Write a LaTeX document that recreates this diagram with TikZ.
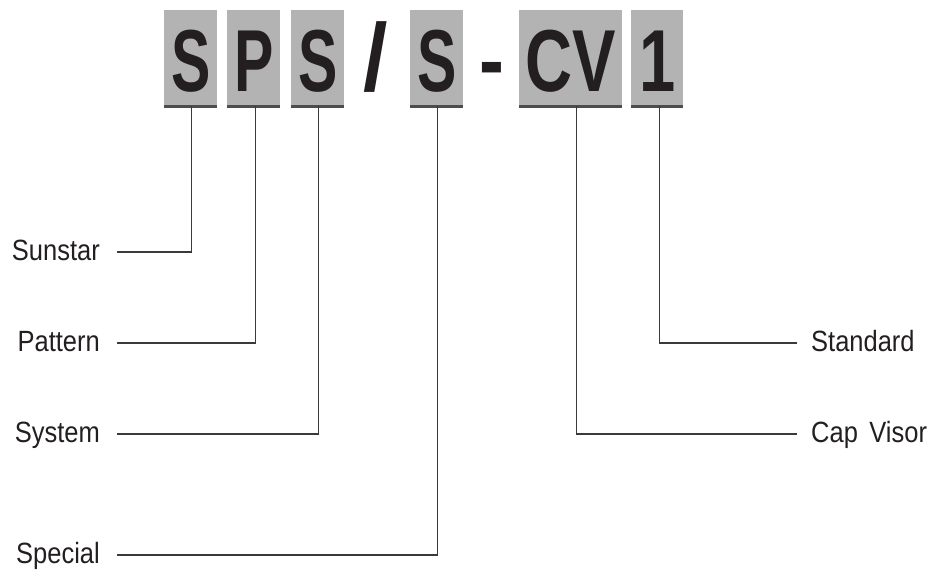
\documentclass[tikz,border=0pt]{standalone}
\usepackage{fontspec}
\usepackage{graphicx}
\setmainfont{Liberation Sans}
\definecolor{boxgray}{HTML}{B3B3B3}
\definecolor{ink}{HTML}{231F20}
\definecolor{underline}{HTML}{4D4D4D}
\definecolor{linegray}{HTML}{3A3A3A}
\newcommand{\cx}[1]{\scalebox{0.67}[1]{#1}}
\newcommand{\cw}[1]{\scalebox{0.74}[1]{#1}}
\newcommand{\lx}[1]{\scalebox{0.87}[1]{#1}}
\newcommand{\codefont}{\fontsize{88}{92}\selectfont\bfseries}
\newcommand{\lblfont}{\fontsize{29.3}{32}\selectfont}
\tikzset{
  codebox/.style={fill=boxgray, inner xsep=0pt, inner ysep=14.5pt, text height=67pt,
    text depth=0pt, minimum height=96pt, anchor=north west, font=\codefont, text=ink},
  codesep/.style={inner sep=0pt, anchor=base, font=\codefont, text=ink},
  underl/.style={draw=underline, line width=2.2pt},
  partlbl/.style={inner sep=0pt, font=\lblfont, text=ink},
  conn/.style={draw=linegray, line width=1.1pt}
}
\begin{document}
\begin{tikzpicture}[x=1pt,y=-1pt]
\useasboundingbox (0,0) rectangle (940,573);
% code boxes
\node[codebox, minimum width=53pt] (b1) at (164,10) {\cx{S}};
\node[codebox, minimum width=53pt] (b2) at (227,10) {\cx{P}};
\node[codebox, minimum width=53pt] (b3) at (291,10) {\cx{S}};
\node[codesep] (slash) at (375.5,90.5) {\scalebox{1}[1.08]{/}};
\node[codebox, minimum width=53pt] (b4) at (410,10) {\cx{S}};
\node[codesep] (dash) at (491.5,90.5) {\scalebox{0.85}[1]{-}};
\node[codebox, minimum width=103pt] (b5) at (519,10) {\cw{CV}};
\node[codebox, minimum width=52pt] (b6) at (631,10) {\cw{1}};
\foreach \b in {b1,b2,b3,b4,b5,b6}
  \draw[underl] (\b.south west) -- (\b.south east);
% labels
\node[partlbl, anchor=base east] (l1) at (100,260) {\lx{Sunstar}};
\node[partlbl, anchor=base east] (l2) at (100,351) {\lx{Pattern}};
\node[partlbl, anchor=base east] (l3) at (100,442) {\lx{System}};
\node[partlbl, anchor=base east] (l4) at (100,563) {\lx{Special}};
\node[partlbl, anchor=base west] (l5) at (811,442) {\lx{Cap\hspace{0.45em}Visor}};
\node[partlbl, anchor=base west] (l6) at (811,351) {\lx{Standard}};
% connector ends
\coordinate (e1) at (117,252);
\coordinate (e2) at (117,343);
\coordinate (e3) at (117,434);
\coordinate (e4) at (117,555);
\coordinate (e5) at (797,434);
\coordinate (e6) at (797,343);
\coordinate (t1) at ([xshift=0.5pt]b1.south);
\coordinate (t2) at ([xshift=1.5pt]b2.south);
\coordinate (t3) at ([xshift=0.5pt]b3.south);
\coordinate (t4) at ([xshift=0.5pt]b4.south);
\coordinate (t5) at ([xshift=5.5pt]b5.south);
\coordinate (t6) at ([xshift=2pt]b6.south);
\draw[conn] (e1) -| (t1);
\draw[conn] (e2) -| (t2);
\draw[conn] (e3) -| (t3);
\draw[conn] (e4) -| (t4);
\draw[conn] (e5) -| (t5);
\draw[conn] (e6) -| (t6);
\end{tikzpicture}
\end{document}
